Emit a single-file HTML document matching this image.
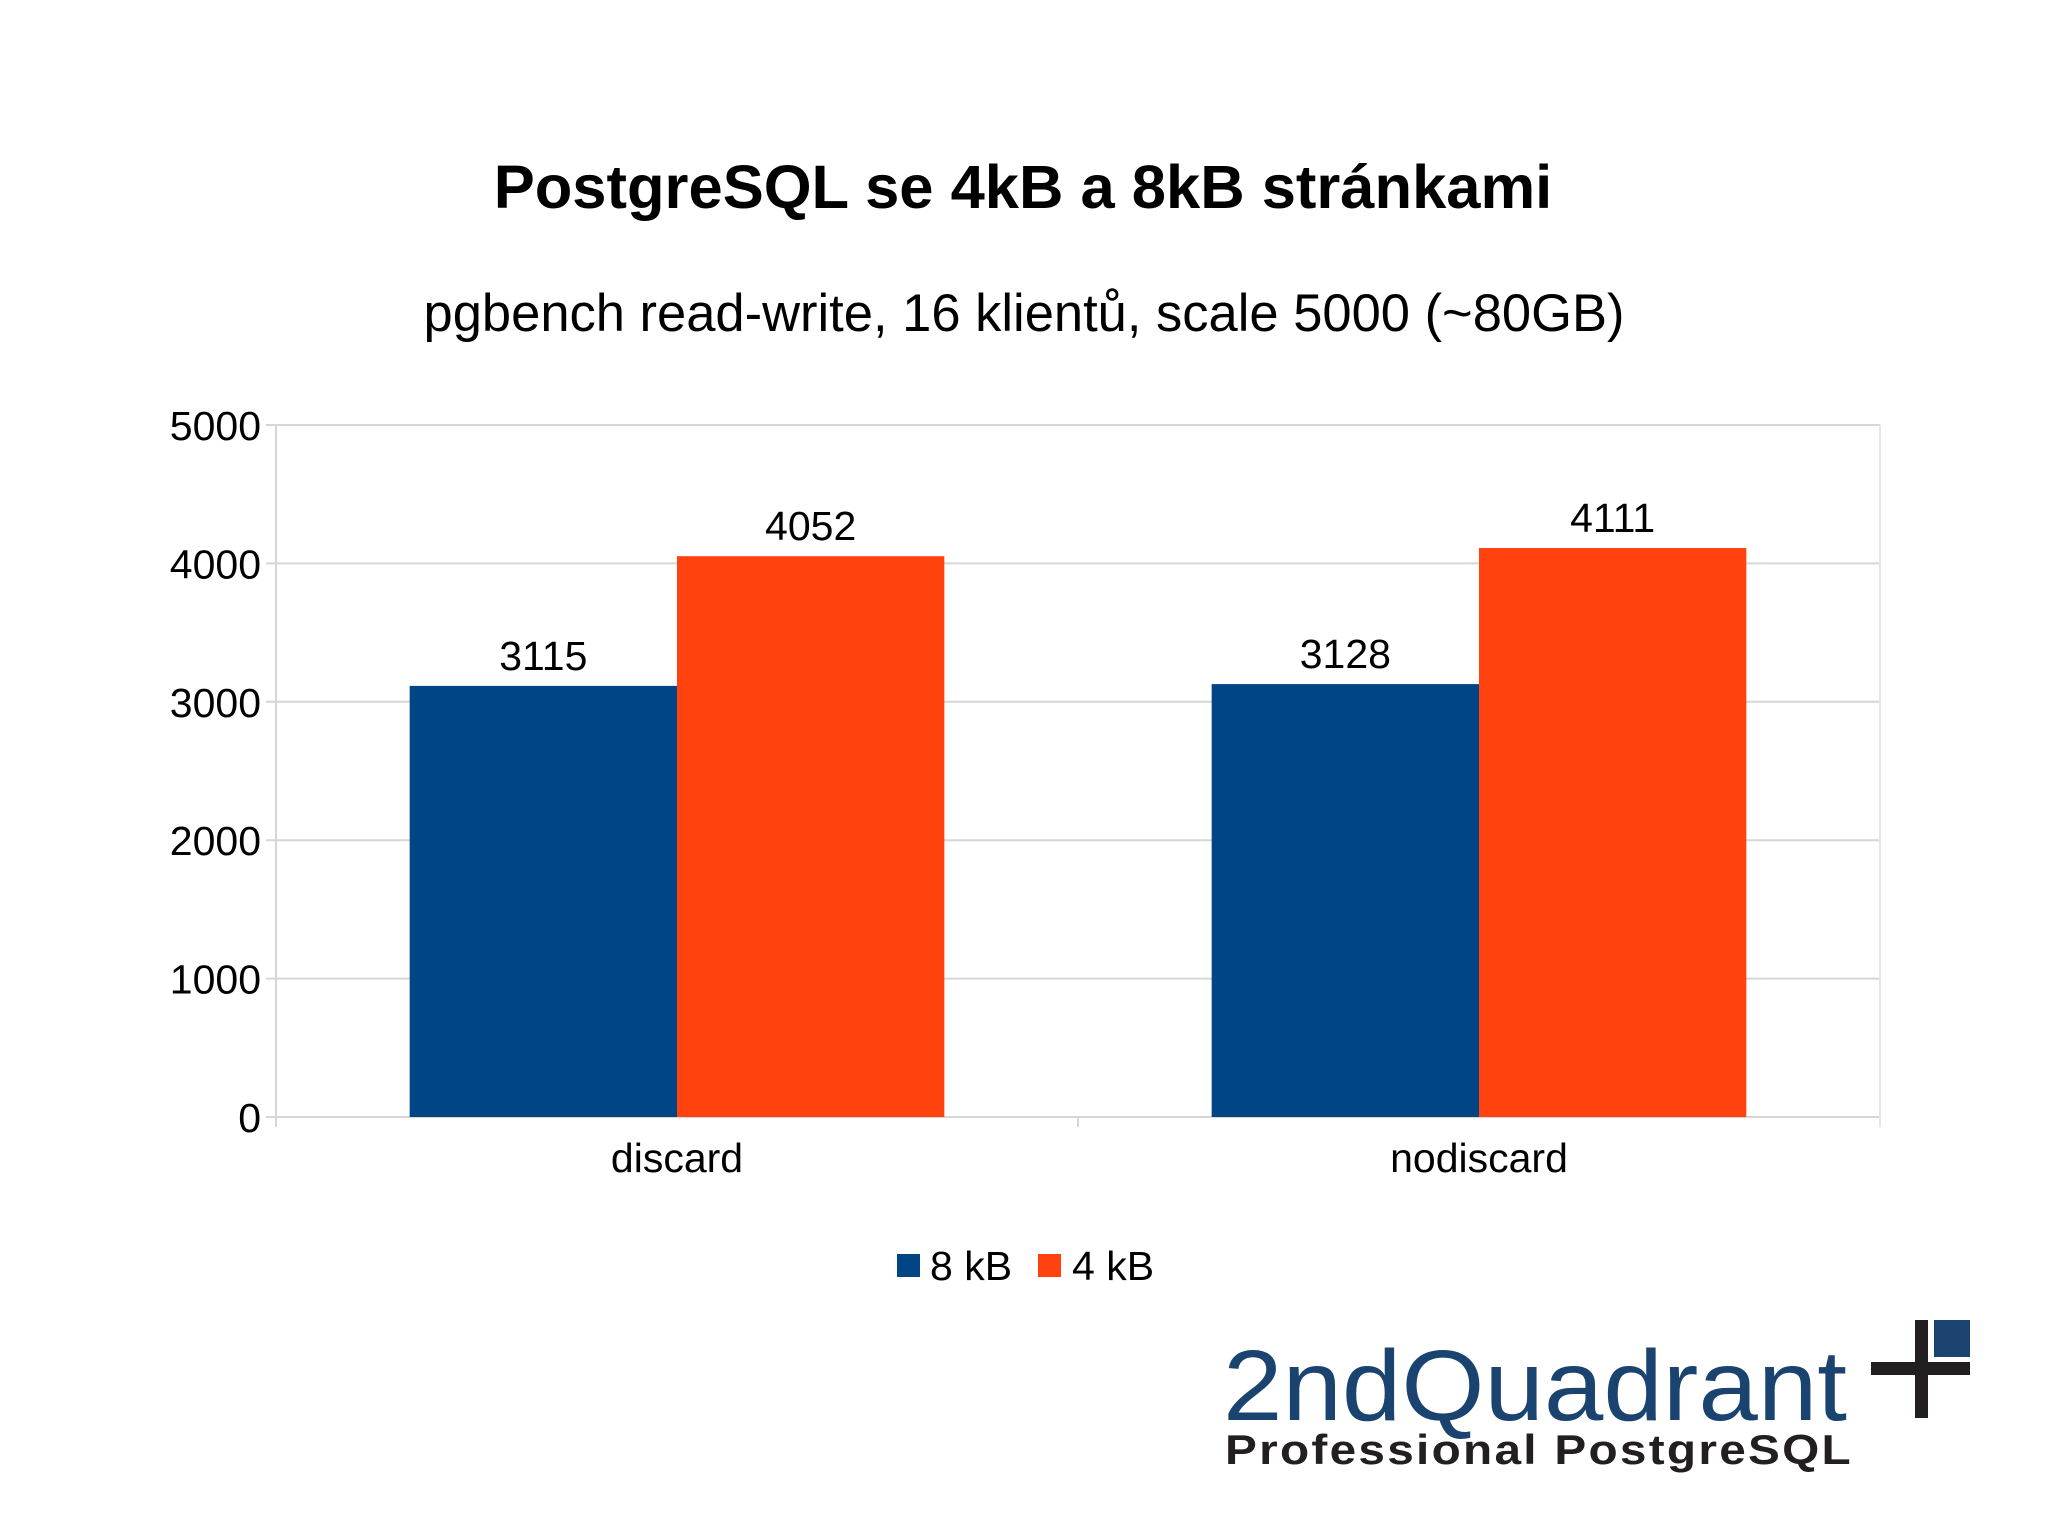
<!DOCTYPE html>
<html><head><meta charset="utf-8"><style>
html,body{margin:0;padding:0;background:#fff;}
svg{display:block;font-family:"Liberation Sans",sans-serif;}
</style></head><body>
<svg id="chart" width="2048" height="1535" viewBox="0 0 2048 1535" xmlns="http://www.w3.org/2000/svg">
<text x="1023" y="208" text-anchor="middle" font-size="61.5" font-weight="bold" fill="#000">PostgreSQL se 4kB a 8kB stránkami</text>
<text x="1024" y="331" text-anchor="middle" font-size="52.5" fill="#000">pgbench read-write, 16 klientů, scale 5000 (~80GB)</text>
<g id="grid"></g>
<g id="bars"></g>
<g id="labels"></g>
<g>
<rect x="897" y="1254" width="23" height="23" fill="#004586"/>
<text x="930" y="1280" font-size="41">8 kB</text>
<rect x="1038" y="1254" width="23" height="23" fill="#ff420e"/>
<text x="1072" y="1280" font-size="41">4 kB</text>
</g>
<g>
<text x="1223" y="1420" font-size="100" fill="#1a4370" textLength="624" lengthAdjust="spacingAndGlyphs">2ndQuadrant</text>
<text x="1225" y="1464" font-size="42" font-weight="bold" fill="#231f20" textLength="628" lengthAdjust="spacingAndGlyphs" letter-spacing="2">Professional PostgreSQL</text>
<rect x="1915" y="1320" width="13" height="98" fill="#231f20"/>
<rect x="1871" y="1362" width="99" height="13" fill="#231f20"/>
<rect x="1934" y="1320" width="36" height="37" fill="#1a4370"/>
</g>
</svg>
<script>
const categories = ["discard", "nodiscard"];
const series8kB = [3115, 3128];
const series4kB = [4052, 4111];
const tickValues = [0, 1000, 2000, 3000, 4000, 5000];
const NS = "http://www.w3.org/2000/svg";
const L = 276, R = 1880, T = 425, B = 1117, yMax = 5000;
const y = v => B - (v / yMax) * (B - T);
const catW = (R - L) / categories.length;
const barW = catW / 3;
const xCat = i => L + catW * i + catW / 2;
function mk(tag, attrs, parent, txt) {
  const e = document.createElementNS(NS, tag);
  for (const k in attrs) e.setAttribute(k, attrs[k]);
  if (txt !== undefined) e.textContent = txt;
  parent.appendChild(e);
  return e;
}
const grid = document.getElementById("grid");
const bars = document.getElementById("bars");
const labels = document.getElementById("labels");
tickValues.forEach(v => {
  const ln = mk("line", {x1: L - 10, x2: R, y1: y(v), y2: y(v), stroke: "#d6d6d6", "stroke-width": 2}, grid);
  
  
  const t = mk("text", {x: L - 15, y: y(v) + 15, "text-anchor": "end", "font-size": 41}, labels, String(v));
  
  
});
const ax = mk("line", {x1: L, x2: L, y1: T, y2: B + 10, stroke: "#d6d6d6", "stroke-width": 2}, grid);


for (let i = 0; i <= categories.length; i++) {
  const tk = mk("line", {x1: L + catW * i, x2: L + catW * i, y1: B, y2: B + 10, stroke: "#d6d6d6", "stroke-width": 2}, grid);
  
  
}
const rAx = mk("line", {x1: R, x2: R, y1: T, y2: B + 10, stroke: "#e6e6e6", "stroke-width": 2}, grid);


categories.forEach((c, i) => {
  const cx = xCat(i);
  [[series8kB, "#004586", -1], [series4kB, "#ff420e", 0]].forEach(([s, col, off]) => {
    const bx = cx + off * barW;
    const r = mk("rect", {x: bx, y: y(s[i]), width: barW, height: B - y(s[i]), fill: col}, bars);
    
    
    const t = mk("text", {x: bx + barW / 2, y: y(s[i]) - 16, "text-anchor": "middle", "font-size": 41}, labels, String(s[i]));
    
    
  });
  const cl = mk("text", {x: cx, y: 1172, "text-anchor": "middle", "font-size": 41}, labels, c);
  
  
});
</script>
</body></html>
